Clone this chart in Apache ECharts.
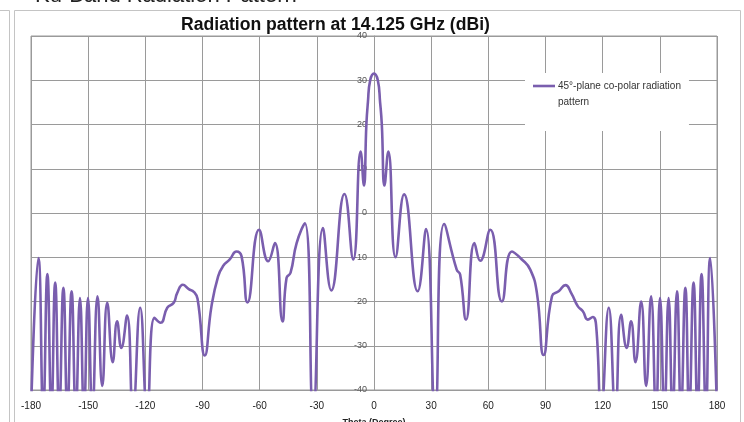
<!DOCTYPE html>
<html>
<head>
<meta charset="utf-8">
<script src="https://cdn.jsdelivr.net/npm/echarts@6/dist/echarts.min.js"></script>
<style>
html,body{margin:0;padding:0;background:#fff;overflow:hidden;}
#c{width:744px;height:422px;}
</style>
</head>
<body>
<div id="c"></div>
<script>
// Data
const seriesName = '45°-plane co-polar radiation pattern';
const thetaDeg = [-180,-176.1,-173.6,-171.4,-169.3,-167.3,-165.2,-163.0,-160.9,-158.7,-156.5,-154.3,-152.2,-150.1,-147.8,-145.1,-142.6,-140.0,-137.1,-134.8,-132.6,-129.6,-126.5,-122.7,-119.0,-115.2,-112.0,-108.5,-105.1,-103.3,-100.3,-97.2,-94.6,-92.6,-88.8,-85.3,-81.8,-79.2,-75.7,-72.2,-69.5,-66.4,-60.3,-55.5,-52.0,-48.0,-45.9,-43.8,-40.6,-36.3,-31.9,-26.8,-22.4,-15.5,-10.9,-7.0,-5.3,-4.0,-3.2,-2.0,0,2.0,3.2,4.1,5.5,7.5,11.3,15.8,22.9,27.3,32.1,36.8,43.4,45.2,48.3,52.7,55.7,61.0,67.1,72.4,77.6,82.0,85.5,89.0,93.4,96.9,100.5,103.5,107.0,109.6,112.2,114.8,116.6,119.2,123.2,126.7,129.7,132.6,134.9,137.2,140.2,142.8,145.4,148.0,150.1,152.4,154.6,156.7,159.0,161.1,163.4,165.4,167.7,169.8,171.9,174.2,176.4,180];
const gainDbi = [-45,-10.2,-45,-13.8,-45,-15.7,-45,-16.9,-45,-17.7,-45,-19.2,-45,-19.2,-45,-18.8,-39.1,-20.3,-33.7,-24.5,-30.5,-23.2,-45,-21.4,-45,-23.7,-24.8,-21.4,-20.3,-18.1,-16.2,-17.2,-17.8,-19.4,-32.2,-21.1,-14.3,-12.0,-10.5,-8.7,-9.8,-20.2,-3.8,-10.9,-6.8,-24.5,-14.7,-13.5,-6.8,-2.3,-45,-3.4,-17.5,4.3,-10.5,13.9,6.2,20,25,30,31.5,30,25,20,6.2,13.9,-10,4.2,-17.7,-3.6,-45,-2.5,-12.8,-13.9,-24.1,-6.8,-10.8,-3.8,-20.0,-8.7,-10.5,-12.8,-18.1,-32.1,-18.8,-17.7,-16.3,-18.1,-21.1,-22.2,-24.1,-23.5,-25.6,-45,-21.4,-45,-23.0,-30.5,-24.5,-33.7,-20.0,-39.1,-18.8,-45,-19.2,-45,-19.2,-45,-17.7,-45,-16.9,-45,-15.7,-45,-13.8,-45,-10.2,-45];
const xTicks = [-180,-150,-120,-90,-60,-30,0,30,60,90,120,150,180];
const yTicks = [-40,-30,-20,-10,0,10,20,30,40];

const chart = echarts.init(document.getElementById('c'), null, {renderer:'canvas'});
const pts = thetaDeg.map((t,i)=>[t, gainDbi[i]]);
const FONT = '"Liberation Sans", Arial, Helvetica, sans-serif';
const purple = '#7a5eae';
const GRID_L = 31, GRID_R = 27;
const plotW = 744 - GRID_L - GRID_R;

chart.setOption({
  animation:false,
  backgroundColor:'#fff',
  title:{
    text:'Radiation pattern at 14.125 GHz (dBi)',
    left:181, top:16,
    padding:0,
    textStyle:{fontFamily:FONT, fontSize:17.6, fontWeight:'bold', color:'#111'}
  },
  graphic:[
    {type:'text', left:35, top:-15.5, style:{text:'Ku-Band Radiation Pattern', font:'22px '+FONT, fill:'#222'}},
    {type:'line', shape:{x1:0,y1:10.5,x2:9.5,y2:10.5}, style:{stroke:'#c4c4c4', lineWidth:1}},
    {type:'line', shape:{x1:9.5,y1:10.5,x2:9.5,y2:422}, style:{stroke:'#c4c4c4', lineWidth:1}},
    {type:'rect', shape:{x:14.5,y:10.5,width:726,height:420}, style:{fill:'none', stroke:'#c4c4c4', lineWidth:1}, z:-1},
    {type:'text', left:558, top:97, z:100, style:{text:'pattern', font:'10px '+FONT, fill:'#333'}}
  ],
  legend:{
    data:[seriesName],
    left:525, top:73,
    padding:[8,8,40,8],
    backgroundColor:'#fff',
    icon:'rect',
    itemWidth:22, itemHeight:2.6, itemGap:4,
    formatter:()=>'45°-plane co-polar radiation',
    textStyle:{fontFamily:FONT, fontSize:10, color:'#333', padding:[0,0,0,-2]}
  },
  grid:{left:GRID_L, right:GRID_R, top:36, bottom:32, outerBoundsMode:'none', show:true, borderColor:'#9a9a9a', borderWidth:1},
  xAxis:{
    type:'value', min:-180, max:180, interval:30,
    name:'Theta (Degree)', nameLocation:'middle', nameGap:28,
    nameTextStyle:{fontFamily:FONT, fontSize:9, color:'#222', fontWeight:'bold'},
    axisLine:{onZero:false, lineStyle:{color:'#9a9a9a'}},
    axisTick:{show:false},
    axisLabel:{fontFamily:FONT, fontSize:10, color:'#222', margin:11,
      formatter:v=> xTicks.includes(v) ? String(v) : ''},
    splitLine:{show:true, lineStyle:{color:'#9a9a9a', width:1}}
  },
  yAxis:{
    type:'value', min:-40, max:40, interval:10,
    offset:-plotW/2,
    axisLine:{show:true, onZero:false, lineStyle:{color:'#9a9a9a'}},
    axisTick:{show:false},
    axisLabel:{fontFamily:FONT, fontSize:9, color:'#555', margin:7,
      formatter:v=> yTicks.includes(v) ? String(v) : ''},
    splitLine:{show:true, lineStyle:{color:'#9a9a9a', width:1}}
  },
  series:[{
    name:seriesName, type:'line', data:pts,
    symbol:'none', smooth:0.5, clip:true,
    lineStyle:{color:purple, width:2.6},
    itemStyle:{color:purple},
    z:3
  }]
});
</script>
</body>
</html>
